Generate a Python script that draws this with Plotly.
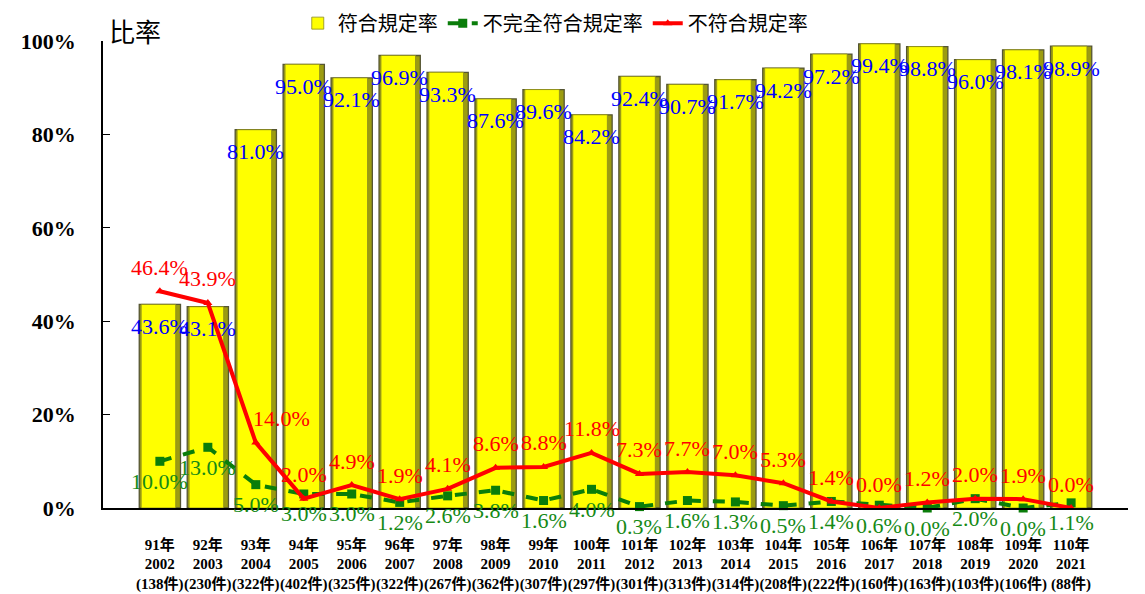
import plotly.graph_objects as go

roc_years = ["91年", "92年", "93年", "94年", "95年", "96年", "97年", "98年", "99年", "100年",
             "101年", "102年", "103年", "104年", "105年", "106年", "107年", "108年", "109年", "110年"]
ad_years = ["2002", "2003", "2004", "2005", "2006", "2007", "2008", "2009", "2010", "2011",
            "2012", "2013", "2014", "2015", "2016", "2017", "2018", "2019", "2020", "2021"]
case_counts = [138, 230, 322, 402, 325, 322, 267, 362, 307, 297,
               301, 313, 314, 208, 222, 160, 163, 103, 106, 88]

compliant = [43.6, 43.1, 81.0, 95.0, 92.1, 96.9, 93.3, 87.6, 89.6, 84.2,
             92.4, 90.7, 91.7, 94.2, 97.2, 99.4, 98.8, 96.0, 98.1, 98.9]
partial = [10.0, 13.0, 5.0, 3.0, 3.0, 1.2, 2.6, 3.8, 1.6, 4.0,
           0.3, 1.6, 1.3, 0.5, 1.4, 0.6, 0.0, 2.0, 0.0, 1.1]
noncompliant = [46.4, 43.9, 14.0, 2.0, 4.9, 1.9, 4.1, 8.6, 8.8, 11.8,
                7.3, 7.7, 7.0, 5.3, 1.4, 0.0, 1.2, 2.0, 1.9, 0.0]

series_names = ["符合規定率", "不完全符合規定率", "不符合規定率"]

categories = [f"{r}<br>{a}<br>({c}件)" for r, a, c in zip(roc_years, ad_years, case_counts)]

SERIF = "Liberation Serif, Times New Roman, Noto Sans CJK TC, serif"
CJK = "Noto Sans CJK TC, Liberation Serif, serif"

fig = go.Figure()
# bar body (darker rim to suggest the bevel)
fig.add_trace(go.Bar(
    x=categories, y=compliant, name=series_names[0], showlegend=False, hoverinfo="skip",
    width=0.86, marker=dict(color="#9c9c10", line=dict(color="#555533", width=1.3)),
))
# bright face of the bar
fig.add_trace(go.Bar(
    x=categories, y=compliant, name=series_names[0],
    width=0.72, offset=-0.39,
    marker=dict(color="#FFFF00", line=dict(color="#8a8a20", width=0.8)),
))
fig.add_trace(go.Scatter(
    x=categories, y=partial, name=series_names[1], mode="lines+markers",
    line=dict(color="#0a7d0a", width=4, dash="dash"),
    marker=dict(symbol="square", size=9, color="#0a7d0a"),
    cliponaxis=False,
))
fig.add_trace(go.Scatter(
    x=categories, y=noncompliant, name=series_names[2], mode="lines+markers",
    line=dict(color="#FF0000", width=4),
    marker=dict(symbol="triangle-up", size=8, color="#FF0000"),
    cliponaxis=False,
))

annotations = []
label_font = 22
for i, cat in enumerate(categories):
    annotations.append(dict(x=cat, y=compliant[i], text=f"{compliant[i]:.1f}%", showarrow=False,
                            yshift=-22, font=dict(family=SERIF, size=label_font, color="#0000FF")))
    annotations.append(dict(x=cat, y=partial[i], text=f"{partial[i]:.1f}%", showarrow=False,
                            yshift=-20, font=dict(family=SERIF, size=label_font, color="#168a16")))
    annotations.append(dict(x=cat, y=noncompliant[i], text=f"{noncompliant[i]:.1f}%", showarrow=False,
                            yshift=24, xshift=(26 if i == 2 else 0),
                            font=dict(family=SERIF, size=label_font, color="#FF0000")))

annotations.append(dict(xref="paper", yref="paper", x=0.004, y=1.022, xanchor="left", yanchor="middle",
                        text="比率", showarrow=False, font=dict(family=CJK, size=26, color="black")))

fig.update_layout(
    width=1145, height=594,
    margin=dict(l=95, r=25, t=33, b=94, autoexpand=False),
    paper_bgcolor="white", plot_bgcolor="white",
    barmode="overlay",
    showlegend=True,
    legend=dict(orientation="h", x=0.19, y=1.08, xanchor="left", yanchor="top",
                font=dict(family=CJK, size=20, color="black"), bgcolor="rgba(0,0,0,0)"),
    annotations=annotations,
)
fig.update_xaxes(
    type="category", showline=True, linecolor="black", linewidth=1.5,
    showgrid=False, ticks="", ticklabelstandoff=22, tickangle=0,
    tickfont=dict(family=SERIF, size=15, color="black", weight="bold"),
)
fig.update_yaxes(
    range=[0, 100], dtick=20, ticksuffix="%", showline=True, linecolor="black", linewidth=1.5,
    showgrid=False, ticks="inside", ticklen=7, tickcolor="black", zeroline=False,
    ticklabelstandoff=21,
    tickfont=dict(family=SERIF, size=22, color="black", weight="bold"),
)

fig.write_html("out.html")
